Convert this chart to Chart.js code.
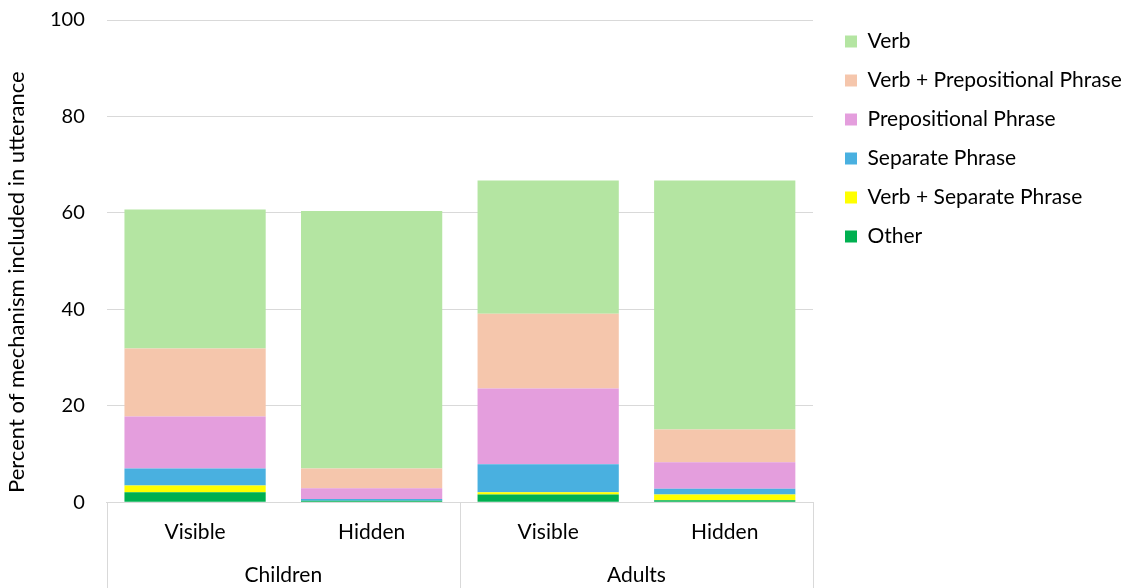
<!DOCTYPE html>
<html>
<head>
<meta charset="utf-8">
<script src="https://cdn.jsdelivr.net/npm/chart.js@4"></script>
<style>
  html, body { margin: 0; padding: 0; background: #fff; }
  #wrap { width: 1123px; height: 588px; }
</style>
</head>
<body>
<div id="wrap"><canvas id="myChart"></canvas></div>
<script>
// categories
var conditions = ["Visible", "Hidden", "Visible", "Hidden"];
var groups = ["Children", "Adults"];
var yTicks = [0, 20, 40, 60, 80, 100];

// series values (percent), bottom to top
var other = [2.1, 0.3, 1.6, 0.4];
var verbSeparate = [1.4, 0, 0.5, 1.2];
var separatePhrase = [3.5, 0.4, 5.8, 1.2];
var prepPhrase = [10.8, 2.2, 15.7, 5.5];
var verbPrep = [14.1, 4.1, 15.5, 6.8];
var verb = [28.8, 53.4, 27.6, 51.6];

var FONT = "Lato, 'Open Sans', sans-serif";

// draws the Excel-style category separators below the plot
var groupLines = {
  id: "groupLines",
  afterDraw: function (chart) {
    var c = chart.ctx;
    var x = chart.scales.x;
    var area = chart.chartArea;
    var half = (x.getPixelForValue(1) - x.getPixelForValue(0)) / 2;
    var edges = [x.left, x.getPixelForValue(1) + half, x.right];
    c.save();
    c.strokeStyle = "#d9d9d9";
    c.lineWidth = 1;
    edges.forEach(function (px) {
      px = Math.round(px) + 0.5;
      c.beginPath();
      c.moveTo(px, area.bottom);
      c.lineTo(px, chart.height);
      c.stroke();
    });
    c.restore();
  },
};

// fixed legend column on the right, and y title centred like Excel does it
var layoutTweaks = {
  id: "layoutTweaks",
  beforeLayout: function (chart) {
    var lg = chart.legend;
    if (lg && !lg._fixed) {
      var fit = lg.fit;
      lg.fit = function () {
        fit.call(this);
        this.width = 310;
      };
      lg._fixed = true;
    }
  },
  afterLayout: function (chart) {
    var lg = chart.legend;
    lg.left += 14;
    lg.top += 13;
    var y = chart.scales.y;
    if (!y._shifted) {
      var dt = y.drawTitle;
      y.drawTitle = function () {
        this.ctx.save();
        this.ctx.translate(0, 21);
        dt.apply(this, arguments);
        this.ctx.restore();
      };
      y._shifted = true;
    }
  },
};

var ctx = document.getElementById("myChart").getContext("2d");
var myChart = new Chart(ctx, {
  type: "bar",
  data: {
    labels: conditions,
    datasets: [
      { label: "Other", data: other, backgroundColor: "#00b050" },
      { label: "Verb + Separate Phrase", data: verbSeparate, backgroundColor: "#ffff00" },
      { label: "Separate Phrase", data: separatePhrase, backgroundColor: "#49b0e0" },
      { label: "Prepositional Phrase", data: prepPhrase, backgroundColor: "#e49edd" },
      { label: "Verb + Prepositional Phrase", data: verbPrep, backgroundColor: "#f5c6ac" },
      { label: "Verb", data: verb, backgroundColor: "#b4e5a2" },
    ],
  },
  options: {
    responsive: true,
    maintainAspectRatio: false,
    animation: false,
    layout: { padding: { top: 0, right: 0, left: 2, bottom: 0 } },
    datasets: { bar: { categoryPercentage: 1, barPercentage: 0.8 } },
    plugins: {
      legend: {
        position: "right",
        align: "start",
        reverse: true,
        labels: {
          boxWidth: 12,
          boxHeight: 12,
          padding: 18,
          color: "#000",
          font: { family: FONT, size: 21 },
        },
      },
      tooltip: { enabled: false },
    },
    scales: {
      x: {
        stacked: true,
        grid: { display: false, drawTicks: false },
        border: { color: "#d9d9d9" },
        ticks: { color: "#000", padding: 19.5, font: { family: FONT, size: 21, lineHeight: 1 } },
      },
      x2: {
        type: "category",
        labels: groups,
        position: "bottom",
        offset: true,
        grid: { display: false, drawTicks: false },
        border: { display: false },
        ticks: { color: "#000", padding: 5.5, font: { family: FONT, size: 21, lineHeight: 0.7 } },
      },
      y: {
        stacked: true,
        min: 0,
        max: 100,
        afterBuildTicks: function (axis) {
          axis.ticks = yTicks.map(function (v) { return { value: v }; });
        },
        afterFit: function (axis) {
          axis.paddingTop = 20;
        },
        grid: { color: "#d9d9d9", drawTicks: false },
        border: { display: false },
        ticks: { color: "#000", padding: 22, font: { family: FONT, size: 20 } },
        title: {
          display: true,
          text: "Percent of mechanism included in utterance",
          color: "#000",
          padding: { top: 4, bottom: 0 },
          font: { family: FONT, size: 22, lineHeight: 1 },
        },
      },
    },
  },
  plugins: [groupLines, layoutTweaks],
});
</script>
</body>
</html>
